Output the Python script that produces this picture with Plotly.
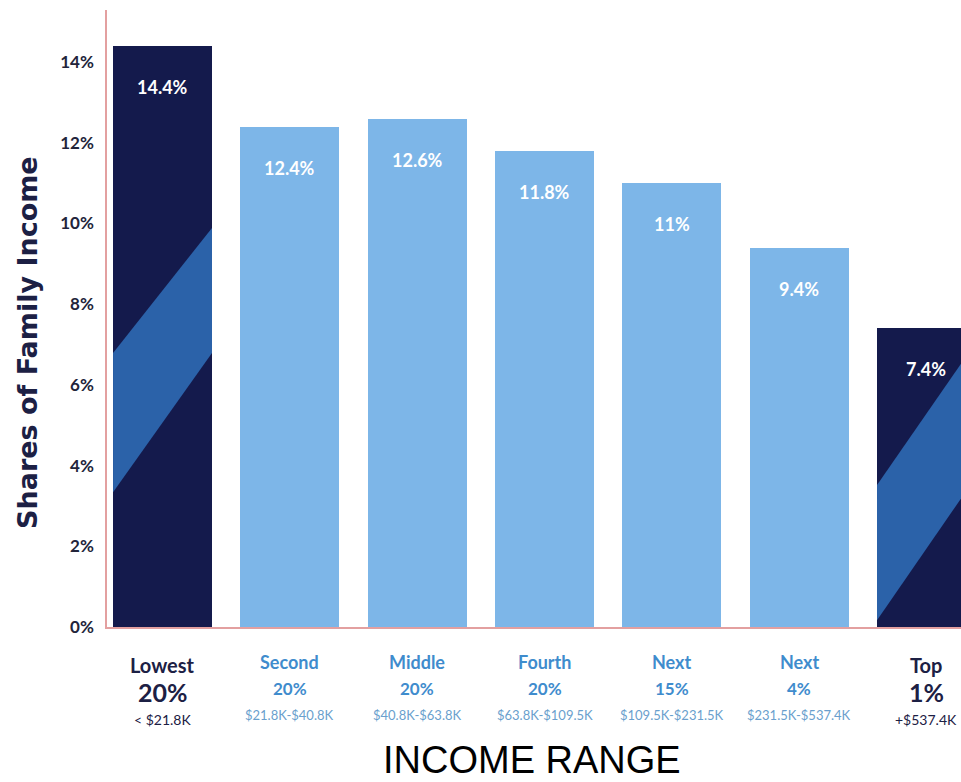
import plotly.graph_objects as go

# ---------------- data ----------------
categories = ["Lowest 20%", "Second 20%", "Middle 20%", "Fourth 20%", "Next 15%", "Next 4%", "Top 1%"]
shares = [14.4, 12.4, 12.6, 11.8, 11.0, 9.4, 7.4]
value_labels = ["14.4%", "12.4%", "12.6%", "11.8%", "11%", "9.4%", "7.4%"]
label_line1 = ["Lowest", "Second", "Middle", "Fourth", "Next", "Next", "Top"]
label_line2 = ["20%", "20%", "20%", "20%", "15%", "4%", "1%"]
label_line3 = ["< $21.8K", "$21.8K-$40.8K", "$40.8K-$63.8K", "$63.8K-$109.5K",
               "$109.5K-$231.5K", "$231.5K-$537.4K", "+$537.4K"]
highlight = [True, False, False, False, False, False, True]
y_tick_vals = [0, 2, 4, 6, 8, 10, 12, 14]
y_tick_text = ["0%", "2%", "4%", "6%", "8%", "10%", "12%", "14%"]

# ---------------- style ----------------
NAVY = "#141a4c"
BAND = "#2b62a9"
LIGHT = "#7db6e8"
DARK_TXT = "#1c2044"
BLUE_TXT = "#3f8ccd"
BLUE_SUB = "#6a9fcd"
AXIS_RED = "#e3a0a0"
BAR_W = 0.777
FONT = "Lato"

W, H = 961, 782
M_L, M_R, M_T, M_B = 107, 0, 10, 155
PLOT_H = H - M_T - M_B  # 617
Y_MAX = 15.29
X_RANGE = [-0.436, 6.271]

# diagonal band geometry (axis units: left/right edge heights of lower & upper band edge)
band_geom = {
    0: (3.34, 6.79, 6.79, 9.89),
    6: (0.17, 3.72, 3.52, 7.06),
}

x_idx = list(range(len(categories)))
bar_colors = [NAVY if h else LIGHT for h in highlight]

fig = go.Figure()
fig.add_trace(go.Bar(
    x=x_idx, y=shares, width=BAR_W,
    marker=dict(color=bar_colors, line=dict(width=0)),
    hovertext=categories, hoverinfo="text+y",
    showlegend=False,
))

shapes = []
for i, (l0, r0, l1, r1) in band_geom.items():
    xl, xr = i - BAR_W / 2, i + BAR_W / 2
    path = f"M {xl} {l0} L {xr} {r0} L {xr} {r1} L {xl} {l1} Z"
    shapes.append(dict(type="path", path=path, xref="x", yref="y",
                       fillcolor=BAND, line=dict(width=0), layer="above"))

annotations = []
# value labels inside bars
for i, (v, t) in enumerate(zip(shares, value_labels)):
    annotations.append(dict(x=i, y=v, xref="x", yref="y", text=t, showarrow=False,
                            yshift=-41, yanchor="middle",
                            font=dict(family=FONT, size=18, color="white", weight=700)))

def py(pix):
    return (H - M_B - pix) / PLOT_H

for i in x_idx:
    if highlight[i]:
        specs = [(label_line1[i], 20, 700, DARK_TXT, 665),
                 (label_line2[i], 25, 700, DARK_TXT, 692),
                 (label_line3[i], 14, 400, DARK_TXT, 719)]
    else:
        specs = [(label_line1[i], 18, 700, BLUE_TXT, 662),
                 (label_line2[i], 17, 700, BLUE_TXT, 688),
                 (label_line3[i], 13, 400, BLUE_SUB, 715)]
    for text, size, weight, color, ypix in specs:
        annotations.append(dict(x=i, y=py(ypix), xref="x", yref="paper", text=text,
                                showarrow=False, xanchor="center", yanchor="middle",
                                font=dict(family=FONT, size=size, color=color, weight=weight)))

annotations.append(dict(x=(532 - M_L) / (W - M_L - M_R), y=py(760), xref="paper", yref="paper",
                        text="INCOME RANGE", showarrow=False, xanchor="center", yanchor="middle",
                        font=dict(family="Liberation Sans, Arial", size=38, color="black")))
annotations.append(dict(x=(27 - M_L) / (W - M_L - M_R), y=py(343), xref="paper", yref="paper",
                        text="Shares of Family Income", textangle=-90, showarrow=False,
                        xanchor="center", yanchor="middle",
                        font=dict(family="DejaVu Sans", size=27, color=DARK_TXT, weight=700)))

fig.update_layout(
    width=W, height=H,
    margin=dict(l=M_L, r=M_R, t=M_T, b=M_B),
    paper_bgcolor="white", plot_bgcolor="white",
    shapes=shapes, annotations=annotations,
    bargap=0,
    xaxis=dict(range=X_RANGE, showticklabels=False, showgrid=False, zeroline=False,
               showline=True, linecolor=AXIS_RED, linewidth=1.5, ticks=""),
    yaxis=dict(range=[0, Y_MAX], tickvals=y_tick_vals, ticktext=y_tick_text,
               showgrid=False, zeroline=False, showline=True, linecolor=AXIS_RED,
               linewidth=1.5, ticks="", ticklabelstandoff=8,
               tickfont=dict(family=FONT, size=17, color="#22243a", weight=700)),
)

fig.write_html("out.html", config={"displayModeBar": False},
               post_script="document.body.style.margin='0';document.body.style.overflow='hidden';")
